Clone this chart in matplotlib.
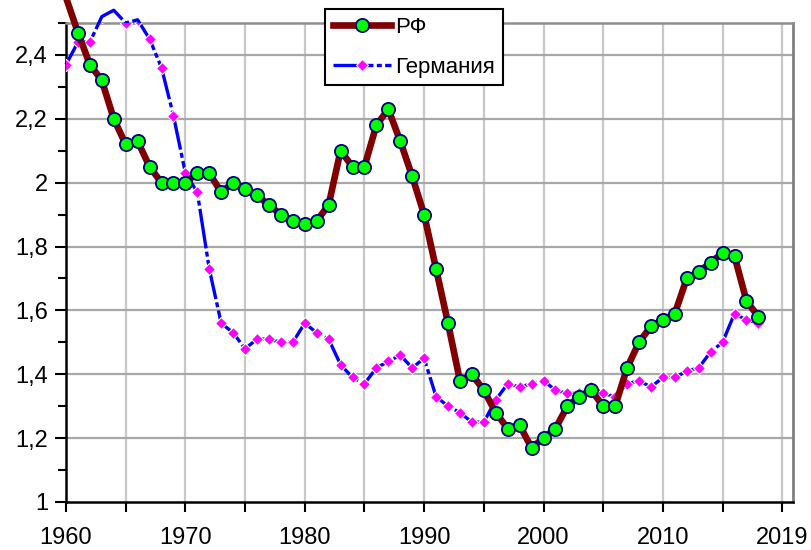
import numpy as np
import matplotlib
matplotlib.use("Agg")
from matplotlib import pyplot as plt
from matplotlib.lines import Line2D
from matplotlib.ticker import FixedLocator, FuncFormatter

plt.rcParams["font.family"] = ["Liberation Sans", "DejaVu Sans"]

years = list(range(1960, 2019))

rf = [2.58, 2.47, 2.37, 2.32, 2.20, 2.12, 2.13, 2.05, 2.00, 2.00,
      2.00, 2.03, 2.03, 1.97, 2.00, 1.98, 1.96, 1.93, 1.90, 1.88,
      1.87, 1.88, 1.93, 2.10, 2.05, 2.05, 2.18, 2.23, 2.13, 2.02,
      1.90, 1.73, 1.56, 1.38, 1.40, 1.35, 1.28, 1.23, 1.24, 1.17,
      1.20, 1.23, 1.30, 1.33, 1.35, 1.30, 1.30, 1.42, 1.50, 1.55,
      1.57, 1.59, 1.70, 1.72, 1.75, 1.78, 1.77, 1.63, 1.58]

germany = [2.37, 2.44, 2.44, 2.52, 2.54, 2.50, 2.51, 2.45, 2.36, 2.21,
           2.03, 1.97, 1.73, 1.56, 1.53, 1.48, 1.51, 1.51, 1.50, 1.50,
           1.56, 1.53, 1.51, 1.43, 1.39, 1.37, 1.42, 1.44, 1.46, 1.42,
           1.45, 1.33, 1.30, 1.28, 1.25, 1.25, 1.32, 1.37, 1.36, 1.37,
           1.38, 1.35, 1.34, 1.34, 1.36, 1.34, 1.33, 1.37, 1.38, 1.36,
           1.39, 1.39, 1.41, 1.42, 1.47, 1.50, 1.59, 1.57, 1.56]

x_major = [1960, 1970, 1980, 1990, 2000, 2010, 2020]
x_labels = ["1960", "1970", "1980", "1990", "2000", "2010", "2019"]
y_major = [1.0, 1.2, 1.4, 1.6, 1.8, 2.0, 2.2, 2.4]

fig = plt.figure(figsize=(8.11, 5.5), dpi=100)
ax = fig.add_axes([66 / 811, 1 - 502 / 550, 727 / 811, 479 / 550])

# lines first (allowed to run past the top), markers clipped to the plot area
ax.plot(years, germany, color="#0000ff", lw=2.4, dashes=(12, 1.0, 1.5, 1.0),
        clip_on=False, zorder=3)
ax.plot(years, germany, ls="none", marker="D", ms=6.5, mfc="#ff00ff",
        mec="white", mew=0.8, zorder=4)
ax.plot(years, rf, color="#800000", lw=4.8, solid_capstyle="round",
        clip_on=False, zorder=5)
ax.plot(years, rf, ls="none", marker="o", ms=9.5, mfc="#00ff00",
        mec="#000080", mew=1.3, zorder=6)

ax.set_xlim(1960, 2020.9)
ax.set_ylim(1.0, 2.5)

ax.xaxis.set_major_locator(FixedLocator(x_major))
ax.set_xticklabels(x_labels)
ax.xaxis.set_minor_locator(FixedLocator([1965, 1975, 1985, 1995, 2005, 2015]))
ax.yaxis.set_major_locator(FixedLocator(y_major))
ax.yaxis.set_minor_locator(FixedLocator([1.1, 1.3, 1.5, 1.7, 1.9, 2.1, 2.3, 2.5]))
ax.yaxis.set_major_formatter(FuncFormatter(lambda v, p: ("%g" % round(v, 1)).replace(".", ",")))

ax.tick_params(axis="x", which="both", direction="out", length=7, width=1.5,
               labelsize=17, pad=11)
ax.tick_params(axis="y", which="major", direction="out", length=8, width=1.5,
               labelsize=17, pad=5)
ax.tick_params(axis="y", which="minor", direction="out", length=6, width=1.5)

for xv in range(1965, 2021, 5):
    ax.axvline(xv, color="#c8c8c8", lw=1.6, zorder=1)
for yv in y_major[1:]:
    ax.axhline(yv, color="#a8a8a8", lw=1.6, zorder=1)

ax.spines["left"].set_linewidth(1.8)
ax.spines["bottom"].set_linewidth(1.8)
ax.spines["top"].set_color("#909090")
ax.spines["top"].set_linewidth(1.8)
ax.spines["right"].set_color("#808080")
ax.spines["right"].set_linewidth(2)

handles = [
    Line2D([], [], color="#800000", lw=4.8, marker="o", ms=9.5, mfc="#00ff00",
           mec="#000080", mew=1.3),
    Line2D([], [], color="#0000ff", lw=2.4, dashes=(12, 1.0, 1.5, 1.0), marker="D",
           ms=6, mfc="#ff00ff", mec="white", mew=0.8),
]
leg = ax.legend(handles, ["РФ", "Германия"], loc="upper left",
                bbox_to_anchor=(325 / 811, 1 - 9 / 550), bbox_transform=fig.transFigure,
                borderaxespad=0, fontsize=16, handlelength=2.6, handletextpad=0.2,
                labelspacing=0.85, borderpad=0.35, fancybox=False, framealpha=1,
                edgecolor="black", markerscale=1.0)
leg.get_frame().set_linewidth(1.5)
leg.set_zorder(10)

plt.savefig("out.png", dpi=100)
plt.close()
